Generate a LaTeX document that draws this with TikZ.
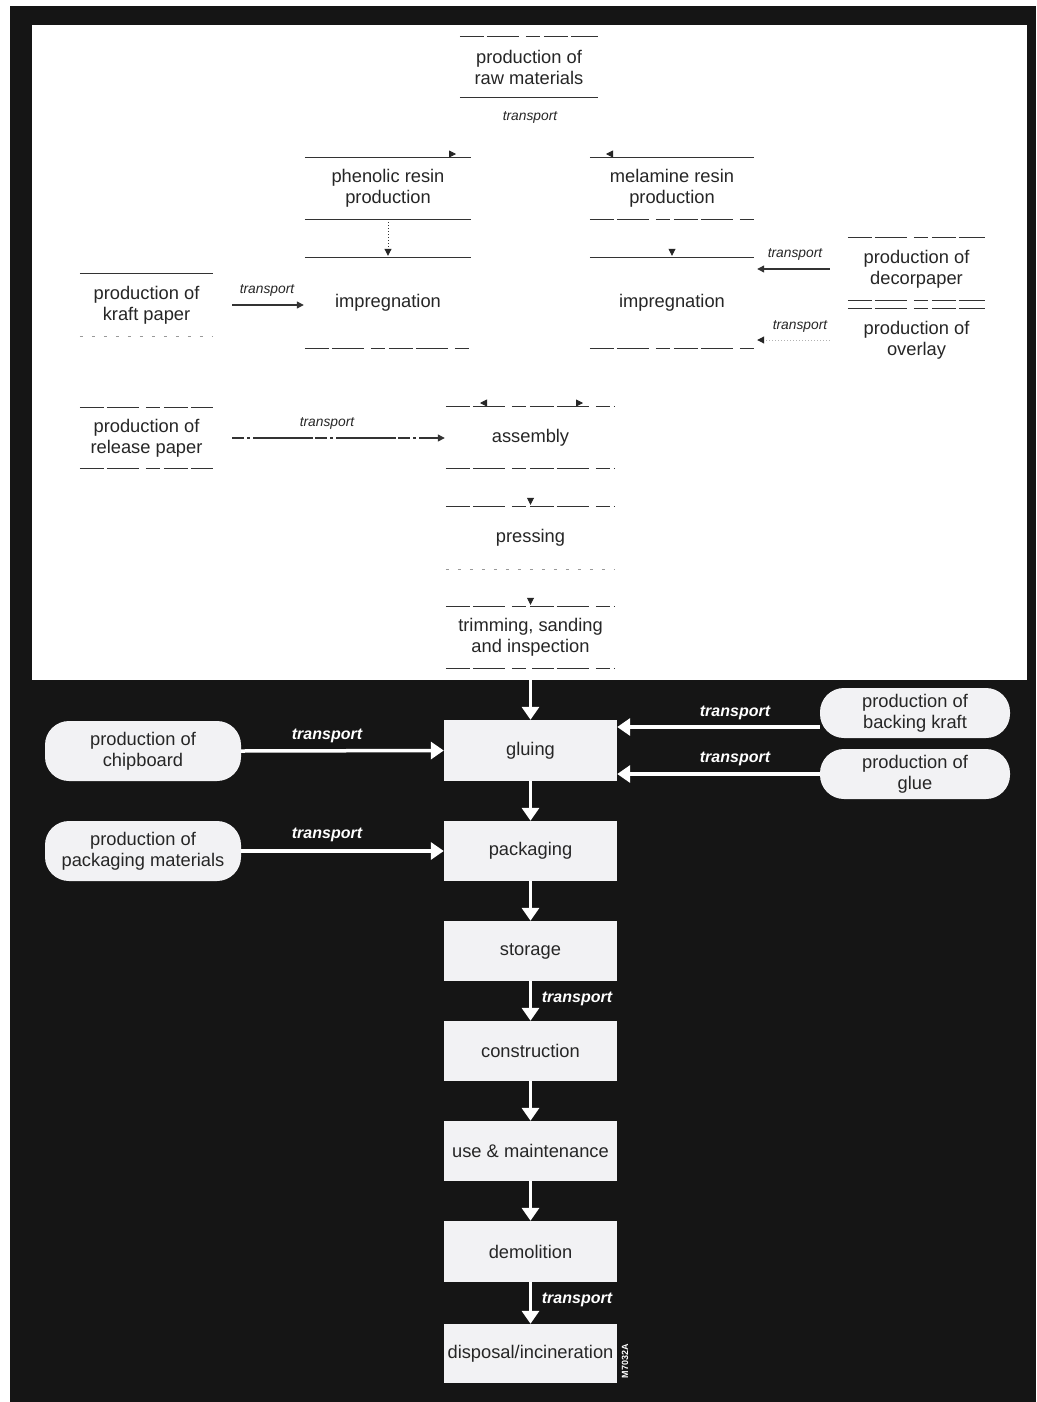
\documentclass[tikz,border=0pt]{standalone}
\usepackage{fontspec}
\setmainfont{Liberation Sans}
\usetikzlibrary{arrows.meta,calc}
\definecolor{bgdark}{HTML}{151515}
\definecolor{boxfill}{HTML}{F2F2F4}
\definecolor{ink}{HTML}{262626}
\definecolor{faint}{HTML}{333333}
\newcommand\boxedges[3]{\draw[#2] (#1.north west) -- (#1.north east); \draw[#3] (#1.south west) -- (#1.south east);}
\begin{document}
\begin{tikzpicture}[x=1pt,y=-1pt,
  txt/.style={font=\fontsize{18.3}{21}\selectfont, text=ink, align=center, inner sep=0pt},
  topbox/.style={txt, minimum width=#1, minimum height=61},
  tallbox/.style={txt, minimum width=#1, minimum height=90},
  eS/.style={draw=faint, line width=1.3pt},
  eD/.style={draw=faint, line width=1.3pt, dash pattern=on 24pt off 3pt on 32pt off 7pt on 14pt off 4pt},
  eF/.style={draw=gray!80, line width=1.1pt, dash pattern=on 3pt off 9pt},
  eN/.style={draw=none},
  ttxt/.style={font=\fontsize{13.8}{15}\selectfont\itshape, text=ink, inner sep=0pt},
  tarrow/.style={draw=faint, line width=1.2pt, -{Triangle[width=7pt,length=7pt]}},
  ghost/.style={draw=white, line width=0.8pt, -{Triangle[width=7pt,length=7pt,color=ink]}},
  wbox/.style={txt, fill=boxfill, minimum width=173, minimum height=61},
  pill/.style={txt, fill=boxfill, rounded corners=24pt, minimum width=#1, minimum height=60},
  warrow/.style={draw=white, line width=3.5pt, -{Triangle[width=17pt,length=13pt]}},
  wtxt/.style={font=\fontsize{16}{18}\selectfont\bfseries\itshape, text=white, inner sep=0pt}
]
\useasboundingbox (0,0) rectangle (1036,1402);
\fill[white] (0,0) rectangle (1036,1402);
\fill[bgdark] (10,6) rectangle (1036,1402);
\fill[white] (32,25) rectangle (1027,680);

% ---------- upper (faded) part ----------
\node[topbox=138] (raw) at (529,67) {production of\\raw materials};
\node[topbox=166] (phen) at (388,188.5) {phenolic resin\\production};
\node[topbox=164] (mel) at (672,188.5) {melamine resin\\production};
\node[tallbox=166] (impL) at (388,303) {impregnation};
\node[tallbox=164] (impR) at (672,303) {impregnation};
\node[topbox=133, minimum height=62] (kraft) at (146.5,305) {production of\\kraft paper};
\node[topbox=133, minimum height=60] (release) at (146.5,438) {production of\\release paper};
\node[topbox=137, minimum height=62] (decor) at (916.5,269) {production of\\decorpaper};
\node[topbox=137, minimum height=62] (overlay) at (916.5,340) {production of\\overlay};
\node[topbox=169] (assem) at (530.5,437.5) {assembly};
\node[topbox=169, minimum height=62] (press) at (530.5,538) {pressing};
\node[topbox=169] (trim) at (530.5,637.5) {trimming, sanding\\and inspection};

\node[ttxt] (t0) at (530,117) {transport};

% connectors (upper part)
\coordinate (rp) at (430,154);
\coordinate (rm) at (632,154);
\draw[ghost] (rp) -- ++(26,0);
\draw[ghost] (rm) -- ++(-26,0);
\draw[faint, line width=1pt, dotted, -{Triangle[width=7pt,length=7pt,color=ink]}] (phen.south) -- ($(impL.north)+(0,-2)$);
\draw[ghost] (mel.south) -- ($(impR.north)+(0,-2)$);
\draw[tarrow, shorten <=19pt, shorten >=1pt] (kraft.east) -- (kraft.east -| impL.west);
\node[ttxt] (t1) at (267,290) {transport};
\draw[tarrow, shorten <=19pt, shorten >=1pt, dash pattern=on 12pt off 3pt on 3pt off 3pt on 60pt off 2pt] (release.east) -- (release.east -| assem.west);
\node[ttxt] (t2) at (327,423) {transport};
\draw[tarrow, shorten <=18pt, shorten >=3pt] (decor.west) -- (decor.west -| impR.east);
\node[ttxt] (t3) at (795,254) {transport};
\draw[draw=gray!60, line width=1pt, dotted, shorten <=18pt, shorten >=3pt, -{Triangle[width=7pt,length=7pt,color=ink]}] (overlay.west) -- (overlay.west -| impR.east);
\node[ttxt] (t4) at (800,326) {transport};
\coordinate (al) at (500,403);
\coordinate (ar) at (563,403);
\draw[ghost] (al) -- ++(-20,0);
\draw[ghost] (ar) -- ++(20,0);
\draw[ghost] (assem.south) -- ($(press.north)+(0,-2)$);
\draw[ghost] (press.south) -- ($(trim.north)+(0,-2)$);

\boxedges{raw}{eD}{eS}
\boxedges{phen}{eS}{eS}
\boxedges{mel}{eS}{eD}
\boxedges{impL}{eS}{eD}
\boxedges{impR}{eS}{eD}
\boxedges{kraft}{eS}{eF}
\boxedges{release}{eD}{eD}
\boxedges{decor}{eD}{eD}
\boxedges{overlay}{eD}{eN}
\boxedges{assem}{eD}{eD}
\boxedges{press}{eD}{eF}
\boxedges{trim}{eD}{eD}

% ---------- lower (dark) part ----------
\node[wbox] (glu) at (530.5,750.5) {gluing};
\node[wbox, minimum height=60] (pack) at (530.5,851) {packaging};
\node[wbox, minimum height=60] (stor) at (530.5,951) {storage};
\node[wbox, minimum height=60] (cons) at (530.5,1051) {construction};
\node[wbox, minimum height=60] (use) at (530.5,1151) {use \& maintenance};
\node[wbox] (demo) at (530.5,1251.5) {demolition};
\node[wbox, minimum height=59] (disp) at (530.5,1353.5) {disposal/incineration};

\node[pill=196] (chip) at (143,751) {production of\\chipboard};
\node[pill=196] (pkm) at (143,851) {production of\\packaging materials};
\node[pill=190, minimum height=50] (back) at (915,713) {production of\\backing kraft};
\node[pill=190, minimum height=50] (gluep) at (915,774) {production of\\glue};

\draw[warrow] (trim.south) -- (glu.north);
\draw[warrow] (glu.south) -- (pack.north);
\draw[warrow] (pack.south) -- (stor.north);
\draw[warrow] (stor.south) -- (cons.north);
\draw[warrow] (cons.south) -- (use.north);
\draw[warrow] (use.south) -- (demo.north);
\draw[warrow] (demo.south) -- (disp.north);

\draw[warrow] (chip.east) -- (glu.west);
\draw[warrow] (pkm.east) -- (pack.west);
\draw[warrow] ($(back.west)+(0,14)$) -- ($(glu.east)+(0,-23.5)$);
\draw[warrow] (gluep.west) -- ($(glu.east)+(0,23.5)$);

\node[wtxt] (w1) at (327,736) {transport};
\node[wtxt] (w2) at (327,835) {transport};
\node[wtxt] (w3) at (735,713) {transport};
\node[wtxt] (w4) at (735,759) {transport};
\node[wtxt] (w5) at (577,999) {transport};
\node[wtxt] (w6) at (577,1300) {transport};

\node[font=\fontsize{9}{10}\selectfont\bfseries, text=white, rotate=90, inner sep=0pt] (code) at (625,1361) {M7032A};
\end{tikzpicture}
\end{document}
